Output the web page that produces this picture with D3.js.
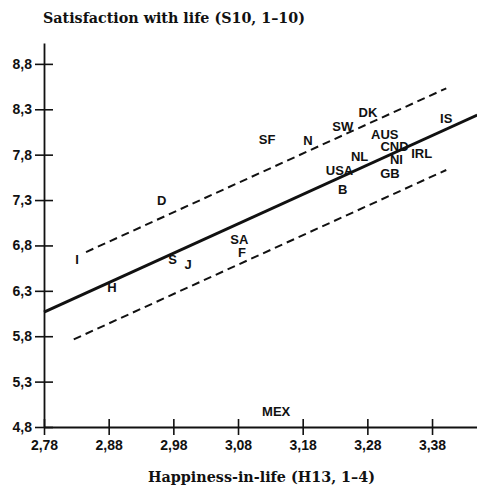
<!DOCTYPE html>
<html>
<head>
<meta charset="utf-8">
<script src="https://cdn.jsdelivr.net/npm/d3@7"></script>
<style>
  body { margin: 0; background: #fff; }
  svg { display: block; }
  .tick text { font-family: "Liberation Sans", Arial, sans-serif; font-weight: bold; font-size: 14px; fill: #111; }
  .pt { font-family: "Liberation Sans", Arial, sans-serif; font-weight: bold; font-size: 13px; fill: #111; }
  .ttl { font-family: "DejaVu Serif", serif; font-weight: bold; font-size: 14px; fill: #111; }
</style>
</head>
<body>
<div id="chart"></div>
<script>
// country codes and their scores
const countries = ['I', 'H', 'D', 'S', 'J', 'SA', 'F', 'SF', 'N', 'SW', 'DK', 'AUS', 'CND', 'IRL', 'NI', 'NL', 'USA', 'GB', 'B', 'IS', 'MEX'];
const happiness = [2.831, 2.885, 2.962, 2.979, 3.003, 3.082, 3.086, 3.125, 3.188, 3.242, 3.281, 3.307, 3.322, 3.364, 3.325, 3.268, 3.237, 3.315, 3.242, 3.402, 3.139];
const satisfaction = [6.64, 6.34, 7.30, 6.64, 6.59, 6.87, 6.72, 7.97, 7.96, 8.11, 8.26, 8.02, 7.89, 7.81, 7.75, 7.78, 7.63, 7.59, 7.42, 8.20, 4.97];

// regression line and the two dashed band lines, as end points [x, y]
const fitLine = [[2.78, 6.066], [3.45, 8.236]];
const upperBand = [[2.845, 6.727], [3.402, 8.531]];
const lowerBand = [[2.826, 5.765], [3.402, 7.631]];

const xTicks = [2.78, 2.88, 2.98, 3.08, 3.18, 3.28, 3.38];
const xTickLabels = ['2,78', '2,88', '2,98', '3,08', '3,18', '3,28', '3,38'];
const yTicks = [4.8, 5.3, 5.8, 6.3, 6.8, 7.3, 7.8, 8.3, 8.8];
const yTickLabels = ['4,8', '5,3', '5,8', '6,3', '6,8', '7,3', '7,8', '8,3', '8,8'];

const width = 477, height = 494;

const svg = d3.select('#chart').append('svg')
  .attr('width', width)
  .attr('height', height);

const x = d3.scaleLinear().domain([2.78, 3.45]).range([44, 477.3]);
const y = d3.scaleLinear().domain([4.8, 9.03]).range([427, 43]);

// axes, ticks cross the axis line
const xAxis = svg.append('g')
  .attr('transform', `translate(0,${y(4.8)})`)
  .call(d3.axisBottom(x).tickValues(xTicks).tickFormat((d, i) => xTickLabels[i]).tickSizeOuter(0));
xAxis.selectAll('.tick line').attr('y1', -8).attr('y2', 8).attr('stroke', '#111').attr('stroke-width', 1.6);
xAxis.selectAll('.tick text').attr('y', 13);

const yAxis = svg.append('g')
  .attr('transform', `translate(${x(2.78)},0)`)
  .call(d3.axisLeft(y).tickValues(yTicks).tickFormat((d, i) => yTickLabels[i]).tickSizeOuter(0));
yAxis.selectAll('.tick line').attr('x1', -9).attr('x2', 9).attr('stroke', '#111').attr('stroke-width', 1.6);
yAxis.selectAll('.tick text').attr('x', -12);

svg.selectAll('.domain').attr('stroke', '#111').attr('stroke-width', 1.8);

const line = d3.line().x(d => x(d[0])).y(d => y(d[1]));

svg.append('path')
  .attr('d', line(fitLine))
  .attr('fill', 'none')
  .attr('stroke', '#111')
  .attr('stroke-width', 3);

[upperBand, lowerBand].forEach(b => {
  svg.append('path')
    .attr('d', line(b))
    .attr('fill', 'none')
    .attr('stroke', '#111')
    .attr('stroke-width', 2)
    .attr('stroke-dasharray', '8,5');
});

svg.selectAll('.pt')
  .data(countries)
  .enter().append('text')
  .attr('class', 'pt')
  .attr('x', (d, i) => x(happiness[i]))
  .attr('y', (d, i) => y(satisfaction[i]))
  .attr('text-anchor', 'middle')
  .attr('dominant-baseline', 'central')
  .text(d => d);

svg.append('text')
  .attr('class', 'ttl')
  .attr('x', 43)
  .attr('y', 23)
  .attr('textLength', 262)
  .attr('lengthAdjust', 'spacingAndGlyphs')
  .text('Satisfaction with life (S10, 1\u201310)');

svg.append('text')
  .attr('class', 'ttl')
  .attr('x', 148)
  .attr('y', 482)
  .attr('font-size', 15)
  .attr('textLength', 227)
  .attr('lengthAdjust', 'spacingAndGlyphs')
  .text('Happiness-in-life (H13, 1\u20134)');
</script>
</body>
</html>
